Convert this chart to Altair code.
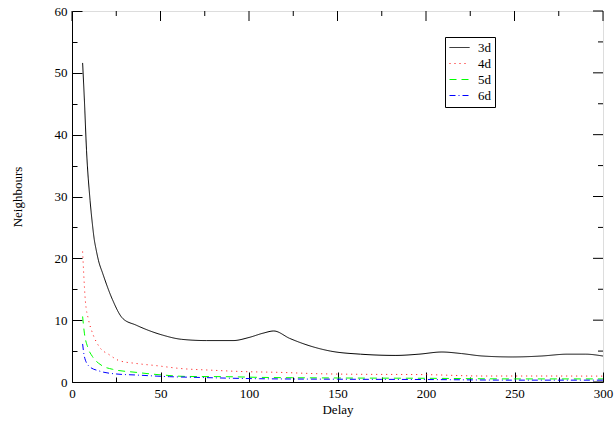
import altair as alt
import pandas as pd

series_names = ["3d", "4d", "5d", "6d"]

x3 = [6, 7, 8.2, 10.2, 11.5, 12.6, 13.5, 15, 17.3, 22.9, 28.6, 36.2, 51, 62, 76, 91, 100, 108, 114, 123, 136, 146,
      163, 183, 196, 209, 220, 232, 249, 265, 280, 290, 300]
y3 = [51.6, 45.6, 37.5, 29.4, 25.6, 23.0, 21.6, 19.6, 17.6, 13.3, 10.3, 9.2, 7.6, 6.9, 6.7, 6.7, 7.2, 7.9, 8.25, 7.05, 5.7, 5.0,
      4.5, 4.3, 4.5, 4.85, 4.6, 4.2, 4.05, 4.2, 4.5, 4.5, 4.2]

x4 = [6, 6.6, 7.5, 9.4, 11.6, 15.4, 21.1, 26.7, 36.2, 47.5, 60.6, 79.5, 98.4, 117, 138, 160, 198, 232, 265, 300]
y4 = [21.1, 17.6, 13.3, 10.0, 7.9, 5.7, 4.4, 3.45, 3.0, 2.65, 2.2, 1.9, 1.67, 1.56, 1.35, 1.25, 1.2, 0.97, 0.97, 0.95]

x5 = [6, 7, 8.8, 11.6, 16.4, 23, 36.2, 51.2, 64.5, 87, 106, 150, 200, 250, 300]
y5 = [10.6, 7.9, 5.7, 4.1, 2.75, 2.05, 1.56, 1.13, 0.9, 0.86, 0.75, 0.65, 0.6, 0.5, 0.5]

x6 = [6, 7, 9.8, 15.4, 24.9, 36.2, 55, 68.5, 106, 150, 200, 250, 300]
y6 = [6.15, 4.1, 2.5, 1.78, 1.3, 1.13, 0.86, 0.76, 0.53, 0.45, 0.4, 0.3, 0.3]

x_major = [0, 50, 100, 150, 200, 250, 300]
x_minor = [25, 75, 125, 175, 225, 275]
y_major = [0, 10, 20, 30, 40, 50, 60]
y_minor = [5, 15, 25, 35, 45, 55]

colors = ["black", "red", "#00ff00", "blue"]
dashes = [[1, 0], [1, 4], [7, 5], [6, 3, 1, 3]]

rows = []
for name, xs, ys in zip(series_names, [x3, x4, x5, x6], [y3, y4, y5, y6]):
    for i, (a, b) in enumerate(zip(xs, ys)):
        rows.append({"x": a, "y": b, "series": name, "order": i})
df = pd.DataFrame(rows)

FONT = "Liberation Serif, Times New Roman, serif"
xscale = alt.Scale(domain=[0, 300], nice=False, zero=False)
yscale = alt.Scale(domain=[0, 60], nice=False)
x_lo, x_hi = xscale.domain
y_lo, y_hi = yscale.domain

# inward ticks on the main axes (major 10 px, minor 5 px); minor labels hidden
xaxis = alt.Axis(
    orient="bottom", values=sorted(x_major + x_minor), title="Delay", ticks=True,
    tickSize={"expr": "datum.value % 50 === 0 ? -10 : -5"}, tickColor="black", tickWidth=1,
    labelExpr="datum.value % 50 === 0 ? datum.label : ''",
    labelPadding=15, grid=False, domainColor="black", labelFont=FONT,
    labelFontSize=13, labelColor="black", titleFont=FONT, titleFontSize=13,
    titleFontWeight="normal", titleColor="black", titlePadding=3, labelFlush=False)
yaxis = alt.Axis(
    orient="left", values=sorted(y_major + y_minor), title="Neighbours", ticks=True,
    tickSize={"expr": "datum.value % 10 === 0 ? -10 : -5"}, tickColor="black", tickWidth=1,
    labelExpr="datum.value % 10 === 0 ? datum.label : ''",
    labelPadding=15, grid=False, domainColor="black", labelFont=FONT,
    labelFontSize=13, labelColor="black", titleFont=FONT, titleFontSize=13,
    titleFontWeight="normal", titleColor="black", titlePadding=30)

legend_cfg = dict(
    orient="none", legendX=373, legendY=26, title="", strokeColor="black",
    fillColor="white", padding=4, symbolType="stroke", symbolSize=400,
    symbolStrokeWidth=1, labelFont=FONT, labelFontSize=13, labelColor="black",
    rowPadding=2, clipHeight=13, labelOffset=8, cornerRadius=0,
)

X = alt.X("x:Q", scale=xscale, axis=xaxis)
Y = alt.Y("y:Q", scale=yscale, axis=yaxis)

lines = alt.Chart(df).mark_line(strokeWidth=1, interpolate="monotone").encode(
    x=X, y=Y,
    color=alt.Color("series:N", scale=alt.Scale(domain=series_names, range=colors),
                    legend=alt.Legend(**legend_cfg)),
    strokeDash=alt.StrokeDash("series:N", scale=alt.Scale(domain=series_names, range=dashes),
                              legend=alt.Legend(**legend_cfg)),
    order="order:Q",
)


def xticks(vals, at, length):
    d = pd.DataFrame({"x": vals, "y": [at] * len(vals)})
    return alt.Chart(d).mark_rule(color="black", strokeWidth=1, y2Offset=length).encode(
        x=X, y=Y, y2=alt.Y2("y:Q"))


def yticks(vals, at, length):
    d = pd.DataFrame({"y": vals, "x": [at] * len(vals)})
    return alt.Chart(d).mark_rule(color="black", strokeWidth=1, x2Offset=length).encode(
        x=X, y=Y, x2=alt.X2("x:Q"))


chart = alt.layer(
    xticks(x_major, y_hi, 10), xticks(x_minor, y_hi, 5),
    yticks(y_major, x_hi, -10), yticks(y_minor, x_hi, -5),
    lines,
).properties(
    width=531, height=371,
    autosize=alt.AutoSizeParams(type="none"),
    padding={"left": 72, "top": 11, "right": 12, "bottom": 40},
    background="white",
).configure_view(stroke="black", strokeWidth=1).configure(font=FONT)

chart.save("out.html", embed_options={"renderer": "svg", "actions": False})
